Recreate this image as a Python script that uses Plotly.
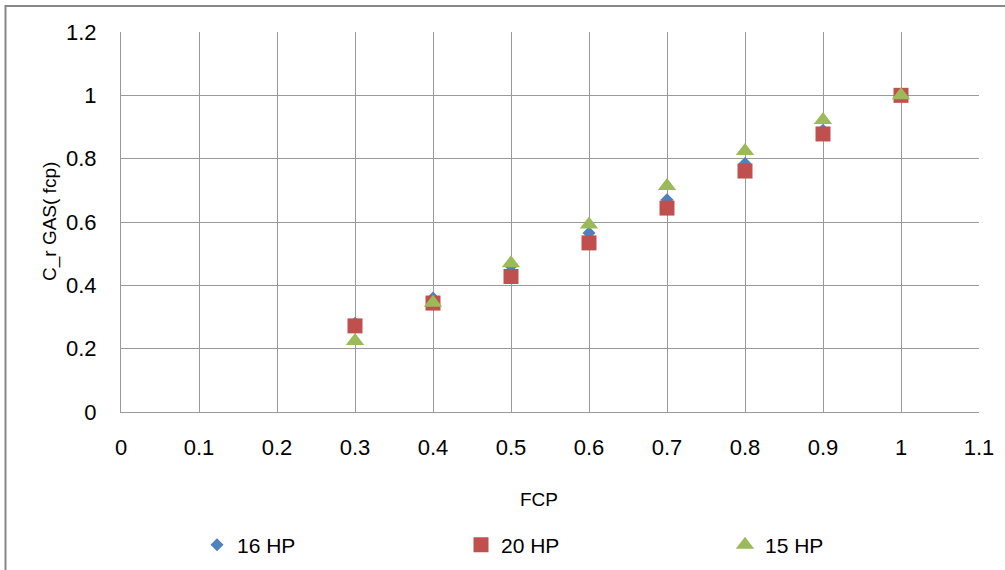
import plotly.graph_objects as go

fcp_16 = [0.3, 0.4, 0.5, 0.6, 0.7, 0.8, 0.9, 1.0]
cr_16 = [0.28, 0.36, 0.46, 0.565, 0.67, 0.785, 0.89, 1.0]

fcp_20 = [0.3, 0.4, 0.5, 0.6, 0.7, 0.8, 0.9, 1.0]
cr_20 = [0.272, 0.344, 0.428, 0.534, 0.644, 0.761, 0.878, 1.0]

fcp_15 = [0.3, 0.4, 0.5, 0.6, 0.7, 0.8, 0.9, 1.0]
cr_15 = [0.224, 0.345, 0.47, 0.592, 0.714, 0.824, 0.922, 1.0]

x_ticks = [0, 0.1, 0.2, 0.3, 0.4, 0.5, 0.6, 0.7, 0.8, 0.9, 1.0, 1.1]
x_ticktext = ["0", "0.1", "0.2", "0.3", "0.4", "0.5", "0.6", "0.7", "0.8", "0.9", "1", "1.1"]
y_ticks = [0, 0.2, 0.4, 0.6, 0.8, 1.0, 1.2]
y_ticktext = ["0", "0.2", "0.4", "0.6", "0.8", "1", "1.2"]

font = "Liberation Sans"
grid = "#9a9a9a"

fig = go.Figure()
fig.add_trace(go.Scatter(x=fcp_16, y=cr_16, mode="markers", name="16 HP",
                         marker=dict(symbol="diamond", size=10, color="#4F81BD")))
fig.add_trace(go.Scatter(x=fcp_20, y=cr_20, mode="markers", name="20 HP",
                         marker=dict(symbol="square", size=15, color="#C0504D")))
fig.add_trace(go.Scatter(x=fcp_15, y=cr_15, mode="markers", name="15 HP",
                         marker=dict(symbol="triangle-up", size=16, color="#9BBB59")))

W, H = 1005, 570
ml, mr, mt, mb = 121, 26, 32, 158
pw, ph = W - ml - mr, H - mt - mb

def px(x):
    return (x - ml) / pw

def py(y):
    return (H - mb - y) / ph

fig.update_layout(
    width=W, height=H,
    margin=dict(l=ml, r=mr, t=mt, b=mb, autoexpand=False),
    paper_bgcolor="white", plot_bgcolor="white",
    font=dict(family=font, size=21, color="black"),
    showlegend=True,
    legend=dict(orientation="h", xref="container", yref="container",
                x=197 / W, xanchor="left", y=1 - 545 / H, yanchor="middle",
                entrywidth=219, entrywidthmode="pixels", font=dict(size=21),
                bgcolor="rgba(0,0,0,0)"),
    xaxis=dict(range=[0, 1.1], tickvals=x_ticks, ticktext=x_ticktext,
               showgrid=True, gridcolor=grid, gridwidth=1,
               showline=True, linecolor=grid, linewidth=1,
               ticks="", ticklabelstandoff=16, tickfont=dict(size=22),
               zeroline=False),
    yaxis=dict(range=[0, 1.2], tickvals=y_ticks, ticktext=y_ticktext,
               showgrid=True, gridcolor=grid, gridwidth=1,
               showline=True, linecolor=grid, linewidth=1,
               ticks="", ticklabelstandoff=19, tickfont=dict(size=22),
               zeroline=False),
    annotations=[
        dict(text="FCP", xref="paper", yref="paper", x=px(539), y=py(499),
             xanchor="center", yanchor="middle", showarrow=False, font=dict(size=19)),
        dict(text="C_r GAS( fcp)", xref="paper", yref="paper", x=px(50), y=py(222),
             xanchor="center", yanchor="middle", showarrow=False, textangle=-90,
             font=dict(size=19)),
    ],
    shapes=[dict(type="rect", xref="paper", yref="paper",
                 x0=px(5.5), x1=px(1020), y0=py(590), y1=py(6),
                 line=dict(color="#888888", width=2), layer="below")],
)

fig.write_html("out.html")
